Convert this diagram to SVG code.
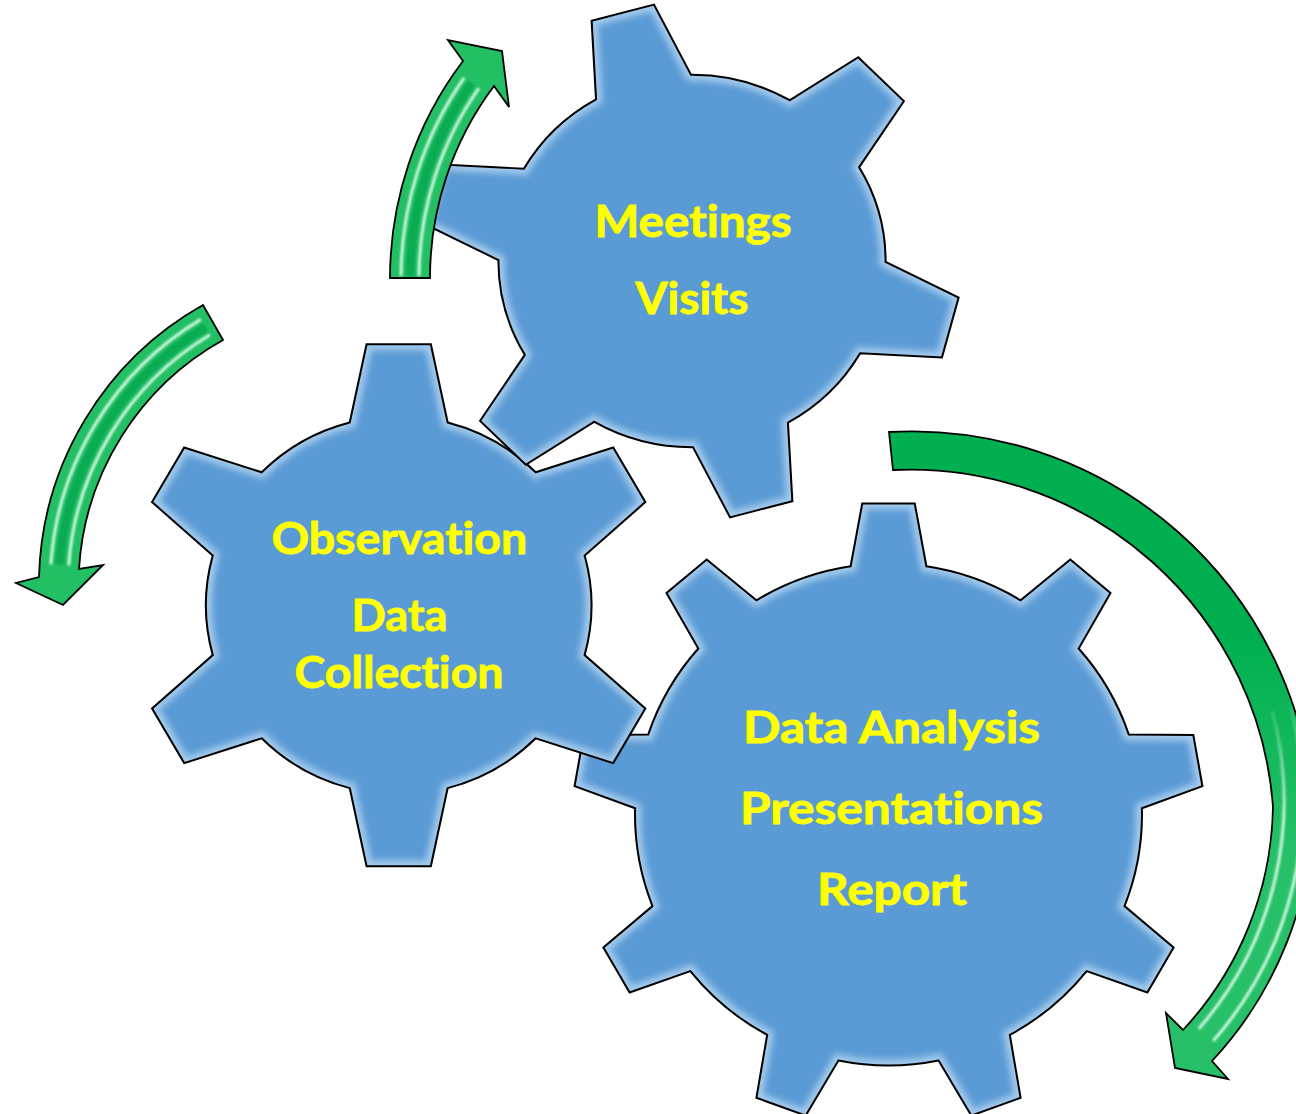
<svg xmlns="http://www.w3.org/2000/svg" xmlns:xlink="http://www.w3.org/1999/xlink" width="1296" height="1114" viewBox="0 0 1296 1114">
<style>
.gfill{fill:#5B9BD5;stroke:none}
.gline{fill:none;stroke:#000;stroke-width:2;stroke-linejoin:miter}
.glow{fill:none;stroke:#D4EAFC;stroke-width:12;opacity:0.6}
.lbl{font-family:Lato,"Open Sans","Liberation Sans",sans-serif;font-weight:bold;font-size:44px;fill:#FFFF00;stroke:#FFFF00;stroke-width:0.8;text-anchor:middle;font-variant-ligatures:none;font-feature-settings:"liga" 0}
.arrow{stroke:#000;stroke-width:1.8;stroke-linejoin:miter}
.band{fill:none;stroke:#00A34C;stroke-width:9;opacity:0.7}
.stripe{fill:none;stroke:#E4FFEF;stroke-width:3;opacity:0.9}
</style>
<defs>
<path id="g6" d="M -48,-182.8 L -31.5,-261 L 31.5,-261 L 48,-182.8 A 189 189 0 0 1 134.3,-133 L 210.3,-157.8 L 241.8,-103.2 L 182.3,-49.8 A 189 189 0 0 1 182.3,49.8 L 241.8,103.2 L 210.3,157.8 L 134.3,133 A 189 189 0 0 1 48,182.8 L 31.5,261 L -31.5,261 L -48,182.8 A 189 189 0 0 1 -134.3,133 L -210.3,157.8 L -241.8,103.2 L -182.3,49.8 A 189 189 0 0 1 -182.3,-49.8 L -241.8,-103.2 L -210.3,-157.8 L -134.3,-133 A 189 189 0 0 1 -48,-182.8 Z"/>
<path id="g9" d="M -37.5,-248.2 L -26,-311 L 26,-311 L 37.5,-248.2 A 251 251 0 0 1 130.8,-214.2 L 180,-254.9 L 219.8,-221.5 L 188.3,-166 A 251 251 0 0 1 237.9,-80 L 301.8,-79.6 L 310.8,-28.4 L 250.9,-6.2 A 251 251 0 0 1 233.7,91.6 L 282.3,133 L 256.3,178 L 196.2,156.6 A 251 251 0 0 1 120.1,220.4 L 130.8,283.3 L 82,301.1 L 49.6,246 A 251 251 0 0 1 -49.6,246 L -82,301.1 L -130.8,283.3 L -120.1,220.4 A 251 251 0 0 1 -196.2,156.6 L -256.3,178 L -282.3,133 L -233.7,91.6 A 251 251 0 0 1 -250.9,-6.2 L -310.8,-28.4 L -301.8,-79.6 L -237.9,-80 A 251 251 0 0 1 -188.3,-166 L -219.8,-221.5 L -180,-254.9 L -130.8,-214.2 A 251 251 0 0 1 -37.5,-248.2 Z"/>
<clipPath id="c6"><use xlink:href="#g6"/></clipPath>
<clipPath id="c9"><use xlink:href="#g9"/></clipPath>
<filter id="soft" x="-10%" y="-10%" width="120%" height="120%"><feGaussianBlur stdDeviation="3"/></filter>
<filter id="thin" x="-10%" y="-10%" width="120%" height="120%"><feGaussianBlur stdDeviation="0.8"/></filter>
<linearGradient id="cfill" gradientUnits="userSpaceOnUse" x1="0" y1="640" x2="0" y2="860">
<stop offset="0" stop-color="#00B050"/><stop offset="1" stop-color="#27C068"/></linearGradient>
<linearGradient id="cfade" gradientUnits="userSpaceOnUse" x1="0" y1="690" x2="0" y2="820">
<stop offset="0" stop-color="#E4FFEF" stop-opacity="0"/><stop offset="1" stop-color="#E4FFEF" stop-opacity="0.9"/></linearGradient>
</defs>

<g id="gear-analysis">
<g transform="translate(888.5,814.5) scale(1.01,1)">
<use xlink:href="#g9" class="gfill"/>
<g clip-path="url(#c9)"><use xlink:href="#g9" class="glow" filter="url(#soft)"/></g>
<use xlink:href="#g9" class="gline"/>
</g>
<text class="lbl" x="891.5" y="743" textLength="297" lengthAdjust="spacingAndGlyphs">Data Analysis</text>
<text class="lbl" x="891.5" y="824" textLength="303" lengthAdjust="spacingAndGlyphs">Presentations</text>
<text class="lbl" x="892" y="905" textLength="150" lengthAdjust="spacingAndGlyphs">Report</text>
</g>

<g id="gear-observation">
<g transform="translate(398.7,605.3) scale(1.02,1)">
<use xlink:href="#g6" class="gfill"/>
<g clip-path="url(#c6)"><use xlink:href="#g6" class="glow" filter="url(#soft)"/></g>
<use xlink:href="#g6" class="gline"/>
</g>
<text class="lbl" x="399.4" y="554" textLength="256" lengthAdjust="spacingAndGlyphs">Observation</text>
<text class="lbl" x="399.4" y="631" textLength="96" lengthAdjust="spacingAndGlyphs">Data</text>
<text class="lbl" x="399" y="688" textLength="209" lengthAdjust="spacingAndGlyphs">Collection</text>
</g>

<g id="gear-meetings">
<g transform="translate(692,261) scale(1.04,1) rotate(-15) scale(0.985)">
<use xlink:href="#g6" class="gfill"/>
<g clip-path="url(#c6)"><use xlink:href="#g6" class="glow" filter="url(#soft)"/></g>
<use xlink:href="#g6" class="gline"/>
</g>
<text class="lbl" x="693" y="237" textLength="197" lengthAdjust="spacingAndGlyphs">Meetings</text>
<text class="lbl" x="692" y="314" textLength="113" lengthAdjust="spacingAndGlyphs">Visits</text>
</g>

<g id="connectors">
<g id="arrow-meetings">
<path class="arrow" fill="#22BF64" d="M 390,278 A 360 360 0 0 1 463,61 L 448,40 L 502,51 L 509,107 L 494,86 A 320 320 0 0 0 430,278 Z"/>
<path class="band" filter="url(#thin)" d="M 410,276 A 340 340 0 0 1 471.5,83"/>
<path class="stripe" filter="url(#thin)" d="M 419,276 A 331 331 0 0 1 478.9,88.1 M 401,276 A 349 349 0 0 1 464.1,77.8"/>
</g>
<g id="arrow-observation">
<path class="arrow" fill="#22BF64" d="M 203,305 A 322 322 0 0 0 39,577 L 16,583 L 63,605 L 103,565 L 79,569 A 282 282 0 0 1 223,340 Z"/>
<path class="band" filter="url(#thin)" d="M 205.5,327.1 A 302 302 0 0 0 59.7,564.9"/>
<path class="stripe" filter="url(#thin)" d="M 210.1,334.8 A 293 293 0 0 0 68.7,565.6 M 200.8,319.4 A 311 311 0 0 0 50.8,564.3"/>
</g>
<g id="arrow-analysis">
<path class="arrow" fill="url(#cfill)" d="M 889,432 A 402 402 0 0 1 1313,805 A 376 376 0 0 1 1212,1061 L 1228,1079 L 1175,1068 L 1166,1013 L 1183,1030 A 336 336 0 0 0 1273,807 A 364 364 0 0 0 893,470 Z"/>
<path fill="none" stroke="url(#cfade)" stroke-width="3" filter="url(#thin)" d="M 1272.2,711.2 A 347 347 0 0 1 1198.9,1028.7 M 1290.5,706.3 A 366 366 0 0 1 1213.2,1041.1"/>
</g>
</g>
</svg>
